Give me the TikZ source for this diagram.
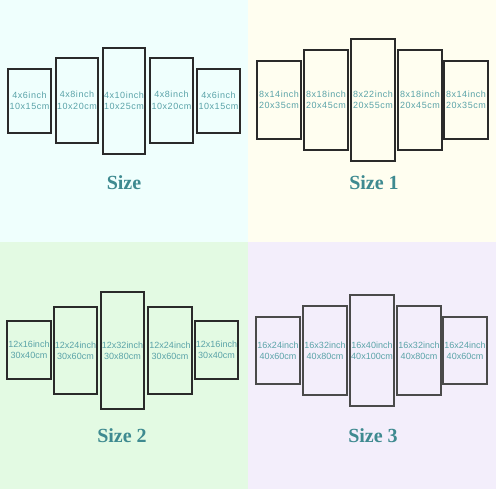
\documentclass[tikz,border=0pt]{standalone}
\usepackage{fontspec}
\setmainfont{Liberation Serif}
\newfontfamily\pfont{Liberation Sans}
\newfontfamily\sfont[LetterSpace=6]{Liberation Sans}
\definecolor{bgA}{HTML}{EFFFFD}
\definecolor{bgB}{HTML}{FFFEF0}
\definecolor{bgC}{HTML}{E3FAE3}
\definecolor{bgD}{HTML}{F3EEFB}
\definecolor{ttl}{HTML}{3E8A90}
\definecolor{ptxt}{HTML}{5AA3A8}
\definecolor{frm}{HTML}{2A2A2A}
\definecolor{frmD}{HTML}{4A4A4A}
\tikzset{
  pnl/.style={draw=frm, line width=1.3pt, inner sep=0pt, align=center,
    text=ptxt, font=\pfont\fontsize{9}{11}\selectfont},
  spaced/.style={font=\sfont\fontsize{9}{11.5}\selectfont},
  grayframe/.style={draw=frmD},
  ttlnode/.style={text=ttl, font=\bfseries\fontsize{20}{20}\selectfont, inner sep=0pt}
}
\newcommand\pnl[8][]{\node[pnl, #1, minimum width={#5pt-#3pt}, minimum height={#6pt-#4pt}] (#2) at ({(#3+#5)/2},{(#4+#6)/2}) {#7\\#8};}
\begin{document}
\begin{tikzpicture}[x=1pt,y=-1pt]
\useasboundingbox (0,0) rectangle (496,500);
\fill[white] (0,0) rectangle (496,500);
\fill[bgA] (0,0) rectangle (248,242);
\fill[bgB] (248,0) rectangle (496,242);
\fill[bgC] (0,242) rectangle (248,489);
\fill[bgD] (248,242) rectangle (496,489);
% Size
\pnl[spaced]{a1}{8}{69}{51}{133}{4x6inch}{10x15cm}
\pnl[spaced]{a2}{56}{58}{98}{143}{4x8inch}{10x20cm}
\pnl[spaced]{a3}{103}{48}{145}{154}{4x10inch}{10x25cm}
\pnl[spaced]{a4}{150}{58}{193}{143}{4x8inch}{10x20cm}
\pnl[spaced]{a5}{197}{69}{240}{133}{4x6inch}{10x15cm}
\node[ttlnode] (ta) at (124,183) {Size};
% Size 1
\pnl[spaced]{b1}{257}{61}{301}{139}{8x14inch}{20x35cm}
\pnl[spaced]{b2}{304}{50}{348}{150}{8x18inch}{20x45cm}
\pnl[spaced]{b3}{351}{39}{395}{161}{8x22inch}{20x55cm}
\pnl[spaced]{b4}{398}{50}{442}{150}{8x18inch}{20x45cm}
\pnl[spaced]{b5}{444}{61}{488}{139}{8x14inch}{20x35cm}
\node[ttlnode] (tb) at (374,183) {Size 1};
% Size 2
\pnl{c1}{7}{321}{51}{379}{12x16inch}{30x40cm}
\pnl{c2}{54}{307}{97}{394}{12x24inch}{30x60cm}
\pnl{c3}{101}{292}{144}{409}{12x32inch}{30x80cm}
\pnl{c4}{148}{307}{192}{394}{12x24inch}{30x60cm}
\pnl{c5}{195}{321}{238}{379}{12x16inch}{30x40cm}
\node[ttlnode] (tc) at (122,436) {Size 2};
% Size 3
\pnl[grayframe]{d1}{256}{317}{300}{384}{16x24inch}{40x60cm}
\pnl[grayframe]{d2}{303}{306}{347}{395}{16x32inch}{40x80cm}
\pnl[grayframe]{d3}{350}{295}{394}{406}{16x40inch}{40x100cm}
\pnl[grayframe]{d4}{397}{306}{441}{395}{16x32inch}{40x80cm}
\pnl[grayframe]{d5}{443}{317}{487}{384}{16x24inch}{40x60cm}
\node[ttlnode] (td) at (373,436) {Size 3};
\end{tikzpicture}
\end{document}
